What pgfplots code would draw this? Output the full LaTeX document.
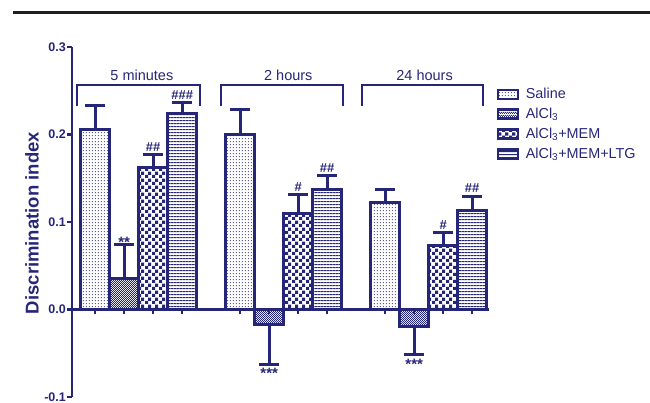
\documentclass[border=0pt]{standalone}
\usepackage{pgfplots}
\pgfplotsset{compat=1.18}
\usepackage{fontspec}
\setmainfont{Liberation Sans}
\usetikzlibrary{patterns}
\definecolor{navy}{RGB}{38,38,120}

\pgfdeclarepatternformonly{saldots}{\pgfqpoint{0pt}{0pt}}{\pgfqpoint{3.3pt}{3.3pt}}{\pgfqpoint{3.3pt}{3.3pt}}{\pgfpathrectangle{\pgfqpoint{1.1pt}{1.1pt}}{\pgfqpoint{1.1pt}{1.1pt}}\pgfusepath{fill}}
\pgfdeclarepatternformonly{finecheck}{\pgfqpoint{0pt}{0pt}}{\pgfqpoint{2.4pt}{2.4pt}}{\pgfqpoint{2.4pt}{2.4pt}}{\pgfpathrectangle{\pgfqpoint{0pt}{0pt}}{\pgfqpoint{1.2pt}{1.2pt}}\pgfpathrectangle{\pgfqpoint{1.2pt}{1.2pt}}{\pgfqpoint{1.2pt}{1.2pt}}\pgfusepath{fill}}
\pgfdeclarepatternformonly{bigcheck}{\pgfqpoint{0pt}{0pt}}{\pgfqpoint{6.6pt}{6.6pt}}{\pgfqpoint{6.6pt}{6.6pt}}{\pgfpathrectangle{\pgfqpoint{0pt}{0pt}}{\pgfqpoint{3.3pt}{3.3pt}}\pgfpathrectangle{\pgfqpoint{3.3pt}{3.3pt}}{\pgfqpoint{3.3pt}{3.3pt}}\pgfusepath{fill}}
\pgfdeclarepatternformonly{hlines}{\pgfqpoint{0pt}{0pt}}{\pgfqpoint{3.3pt}{3.3pt}}{\pgfqpoint{3.3pt}{3.3pt}}{\pgfpathrectangle{\pgfqpoint{0pt}{1.1pt}}{\pgfqpoint{3.3pt}{1.1pt}}\pgfusepath{fill}}

\pgfplotstableread{
x y e
0 0.206 0.0266
5 0.200 0.029
10 0.1225 0.015
}\saline
\pgfplotstableread{
x y e
1 0.035 0.039
}\alclpos
\pgfplotstableread{
x y e
6 -0.0177 0.0446
11 -0.0189 0.033
}\alclneg
\pgfplotstableread{
x y e
2 0.162 0.0153
7 0.110 0.021
12 0.0737 0.014
}\mem
\pgfplotstableread{
x y e
3 0.2242 0.0126
8 0.1374 0.016
13 0.1129 0.0168
}\ltg

\begin{document}
\begin{tikzpicture}[x=1pt,y=1pt]
\useasboundingbox (0,0) rectangle (650,403);
\fill[black!88] (13,388.5) rectangle (650,391.5);
\begin{axis}[
  at={(72pt,6pt)}, anchor=south west,
  scale only axis, width=417pt, height=350pt,
  xmin=-0.8, xmax=13.58, ymin=-0.1, ymax=0.3,
  clip=false,
  ybar, bar width=29pt,
  axis x line=middle, axis y line=left,
  axis line style={-, navy, line width=2.7pt},
  tick style={navy, line width=2.2pt},
  tick align=outside, major tick length=5pt,
  xtick={0,1,2,3,5,6,7,8,10,11,12,13}, xticklabels={},
  ytick={-0.1,0,0.1,0.2,0.3},
  yticklabels={-0.1,0.0,0.1,0.2,0.3},
  yticklabel style={font=\bfseries\fontsize{12.5}{12.5}\selectfont, text=navy, inner sep=1pt},
  ylabel={Discrimination index},
  ylabel style={at={(axis description cs:-0.096,0.497)}, anchor=center, font=\bfseries\fontsize{18.5}{18.5}\selectfont, text=navy},
  legend style={at={(axis description cs:1.019,0.883)}, anchor=north west, draw=none, fill=none,
    font=\fontsize{14.4}{16}\selectfont, text=navy, row sep=8pt, inner sep=0pt,
    nodes={inner xsep=6.5pt, inner ysep=0pt}},
  legend cell align=left,
  legend image code/.code={\draw[#1, line width=2.2pt] (0pt,-4.5pt) rectangle (20pt,4.5pt);},
  mybar/.style={bar shift=0pt, draw=navy, line width=3pt, pattern color=navy,
    error bars/y dir=#1, error bars/y explicit,
    error bars/error bar style={line width=3pt, navy, solid},
    error bars/error mark=-,
    error bars/error mark options={rotate=90, mark size=10pt, line width=3pt, navy}},
]
\addplot[mybar=plus, pattern=saldots, pattern color=navy!75] table[x=x,y=y,y error=e]{\saline};
\addlegendentry{Saline}
\addplot[mybar=plus, pattern=finecheck] table[x=x,y=y,y error=e]{\alclpos};
\addlegendentry{AlCl\textsubscript{3}}
\addplot[mybar=plus, pattern=bigcheck] table[x=x,y=y,y error=e]{\mem};
\addlegendentry{AlCl\textsubscript{3}+MEM}
\addplot[mybar=plus, pattern=hlines] table[x=x,y=y,y error=e]{\ltg};
\addlegendentry{AlCl\textsubscript{3}+MEM+LTG}
\addplot[mybar=minus, pattern=finecheck, forget plot] table[x=x,y=y,y error=e]{\alclneg};

% brackets
\draw[navy, line width=2.2pt] (axis cs:-0.62,0.232) -- (axis cs:-0.62,0.2566) -- (axis cs:3.62,0.2566) -- (axis cs:3.62,0.232);
\draw[navy, line width=2.2pt] (axis cs:4.34,0.232) -- (axis cs:4.34,0.2566) -- (axis cs:8.55,0.2566) -- (axis cs:8.55,0.232);
\draw[navy, line width=2.2pt] (axis cs:9.2,0.232) -- (axis cs:9.2,0.2566) -- (axis cs:13.38,0.2566) -- (axis cs:13.38,0.232);
\begin{scope}[every node/.style={text=navy, font=\fontsize{14.5}{14.5}\selectfont, anchor=base, yshift=4pt}]
\node at (axis cs:1.61,0.2566) {5 minutes};
\node at (axis cs:6.66,0.2566) {2 hours};
\node at (axis cs:11.36,0.2566) {24 hours};
\end{scope}
% significance marks
\begin{scope}[every node/.style={text=navy, font=\bfseries\fontsize{13}{13}\selectfont, inner sep=0pt}]
\node[anchor=south, yshift=3pt] at (axis cs:2,0.1774) {\#\#};
\node[anchor=south, yshift=3pt] at (axis cs:3,0.2368) {\#\#\#};
\node[anchor=south, yshift=3pt] at (axis cs:7,0.131) {\#};
\node[anchor=south, yshift=3pt] at (axis cs:8,0.1534) {\#\#};
\node[anchor=south, yshift=3pt] at (axis cs:12,0.0878) {\#};
\node[anchor=south, yshift=3pt] at (axis cs:13,0.1297) {\#\#};
\end{scope}
\begin{scope}[every node/.style={text=navy, font=\bfseries\fontsize{15}{15}\selectfont, inner sep=0pt}]
\node[anchor=base, yshift=-2pt] at (axis cs:1,0.0737) {**};
\node[anchor=north, yshift=-4pt] at (axis cs:6,-0.0623) {***};
\node[anchor=north, yshift=-4pt] at (axis cs:11,-0.052) {***};
\end{scope}
\end{axis}
\end{tikzpicture}
\end{document}
